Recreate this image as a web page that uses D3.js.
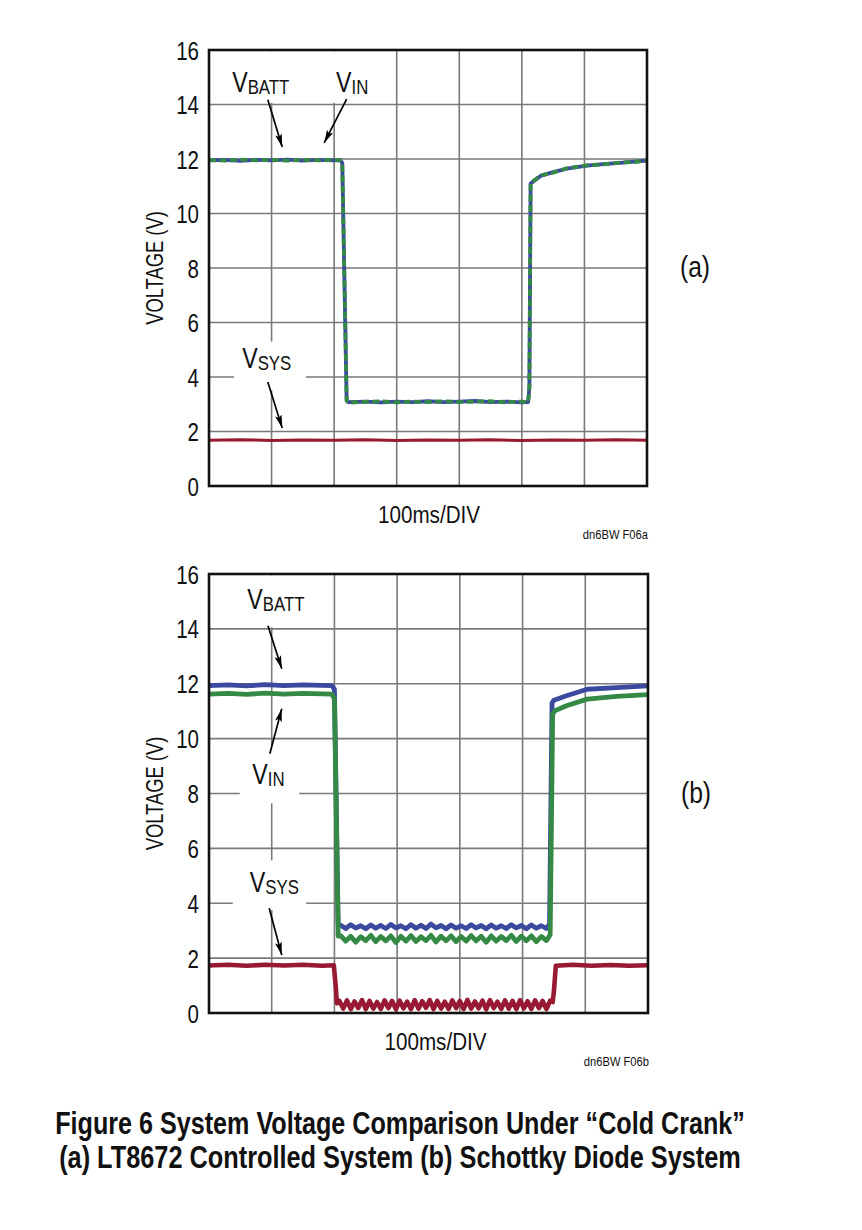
<!DOCTYPE html>
<html>
<head>
<meta charset="utf-8">
<script src="https://cdn.jsdelivr.net/npm/d3@7"></script>
<style>
body { margin: 0; background: #fff; }
svg text { font-family: "Liberation Sans", Arial, sans-serif; fill: #111; }
</style>
</head>
<body>
<svg id="fig" width="862" height="1230"></svg>
<script>
// time in divisions (100ms/DIV), voltage in V
var xTicks = [1, 2, 3, 4, 5, 6];
var yTicks = [0, 2, 4, 6, 8, 10, 12, 14, 16];

// panel (a): LT8672 controlled
var battA = [[0,11.95],[0.25,11.97],[0.5,11.93],[0.75,11.97],[1,11.95],[1.25,11.98],[1.5,11.94],[1.75,11.97],[2,11.95],[2.1,11.96],[2.13,11.85],
  [2.2,3.15],[2.23,3.08],[2.5,3.1],[2.75,3.07],[3,3.1],[3.25,3.08],[3.5,3.11],[3.75,3.08],[4,3.1],[4.25,3.12],[4.5,3.08],[4.75,3.1],[5,3.07],[5.1,3.08],
  [5.12,3.6],[5.14,11.1],[5.3,11.38],[5.5,11.52],[5.72,11.65],[6.04,11.76],[6.3,11.81],[6.57,11.86],[6.8,11.9],[7,11.94]];
var vinA = [[0,11.96],[0.25,11.94],[0.5,11.98],[0.75,11.95],[1,11.97],[1.25,11.94],[1.5,11.97],[1.75,11.95],[2,11.97],[2.1,11.95],[2.13,11.84],
  [2.2,3.12],[2.23,3.06],[2.5,3.09],[2.75,3.11],[3,3.07],[3.25,3.1],[3.5,3.08],[3.75,3.11],[4,3.08],[4.25,3.1],[4.5,3.11],[4.75,3.07],[5,3.1],[5.1,3.07],
  [5.12,3.6],[5.14,11.12],[5.3,11.4],[5.5,11.5],[5.72,11.66],[6.04,11.77],[6.3,11.8],[6.57,11.87],[6.8,11.89],[7,11.95]];
var sysA = [[0,1.68],[0.5,1.7],[1,1.67],[1.5,1.69],[2,1.68],[2.5,1.7],[3,1.67],[3.5,1.69],[4,1.68],[4.5,1.7],[5,1.67],[5.5,1.69],[6,1.68],[6.5,1.7],[7,1.68]];

// panel (b): Schottky diode
var battB = [[0,11.93],[0.3,11.96],[0.6,11.92],[0.9,11.97],[1.2,11.93],[1.5,11.96],[1.8,11.94],[1.96,11.93],[2.0,11.8],[2.06,3.2],
  [2.10,3.20],[2.18,3.08],[2.26,3.22],[2.34,3.10],[2.42,3.18],[2.50,3.07],[2.58,3.21],[2.66,3.09],[2.74,3.19],[2.82,3.08],[2.90,3.23],[2.98,3.10],
  [3.06,3.18],[3.14,3.07],[3.22,3.22],[3.30,3.09],[3.38,3.20],[3.46,3.08],[3.54,3.24],[3.62,3.10],[3.70,3.19],[3.78,3.07],[3.86,3.21],[3.94,3.09],
  [4.02,3.18],[4.10,3.08],[4.18,3.22],[4.26,3.10],[4.34,3.19],[4.42,3.07],[4.50,3.21],[4.58,3.09],[4.66,3.18],[4.74,3.08],[4.82,3.22],[4.90,3.10],
  [4.98,3.19],[5.06,3.07],[5.14,3.21],[5.22,3.09],[5.30,3.18],[5.38,3.08],[5.43,3.25],
  [5.47,11.3],[5.5,11.4],[5.7,11.56],[6.03,11.8],[6.5,11.86],[7,11.92]];
var vinB = [[0,11.62],[0.3,11.65],[0.6,11.61],[0.9,11.66],[1.2,11.62],[1.5,11.65],[1.8,11.63],[1.96,11.62],[2.0,11.45],[2.06,2.8],
  [2.10,2.82],[2.18,2.62],[2.26,2.80],[2.34,2.58],[2.42,2.78],[2.50,2.64],[2.58,2.83],[2.66,2.60],[2.74,2.79],[2.82,2.63],[2.90,2.81],[2.98,2.57],
  [3.06,2.80],[3.14,2.62],[3.22,2.82],[3.30,2.61],[3.38,2.78],[3.46,2.64],[3.54,2.83],[3.62,2.59],[3.70,2.80],[3.78,2.63],[3.86,2.81],[3.94,2.60],
  [4.02,2.79],[4.10,2.62],[4.18,2.82],[4.26,2.63],[4.34,2.80],[4.42,2.58],[4.50,2.81],[4.58,2.62],[4.66,2.79],[4.74,2.64],[4.82,2.83],[4.90,2.61],
  [4.98,2.80],[5.06,2.63],[5.14,2.81],[5.22,2.60],[5.30,2.79],[5.38,2.64],[5.44,2.85],
  [5.48,10.9],[5.52,11.02],[5.7,11.2],[6.03,11.44],[6.5,11.54],[7,11.6]];
var sysB = [[0,1.73],[0.3,1.76],[0.6,1.72],[0.9,1.76],[1.2,1.73],[1.5,1.76],[1.8,1.72],[1.99,1.74],[2.02,1.0],[2.04,0.35],
  [2.08,0.44],[2.14,0.16],[2.20,0.46],[2.26,0.14],[2.32,0.42],[2.38,0.18],[2.44,0.47],[2.50,0.14],[2.56,0.44],[2.62,0.16],[2.68,0.40],[2.74,0.15],
  [2.80,0.46],[2.86,0.18],[2.92,0.44],[2.98,0.13],[3.04,0.45],[3.10,0.17],[3.16,0.41],[3.22,0.14],[3.28,0.47],[3.34,0.16],[3.40,0.43],[3.46,0.19],
  [3.52,0.47],[3.58,0.14],[3.64,0.44],[3.70,0.16],[3.76,0.41],[3.82,0.15],[3.88,0.46],[3.94,0.18],[4.00,0.44],[4.06,0.14],[4.12,0.48],[4.18,0.16],
  [4.24,0.42],[4.30,0.17],[4.36,0.45],[4.42,0.13],[4.48,0.47],[4.54,0.18],[4.60,0.41],[4.66,0.15],[4.72,0.46],[4.78,0.16],[4.84,0.44],[4.90,0.14],
  [4.96,0.47],[5.02,0.17],[5.08,0.43],[5.14,0.15],[5.20,0.46],[5.26,0.18],[5.32,0.44],[5.38,0.14],[5.44,0.45],
  [5.48,0.4],[5.5,0.8],[5.53,1.72],[5.8,1.76],[6.1,1.72],[6.4,1.75],[6.7,1.72],[7,1.74]];

// annotations in data units: label anchor [t, v], arrow [t0, v0, t1, v1], white boxes [t0, t1, v0, v1]
var labelsA = [{main: "V", sub: "BATT", at: [0.37, 14.46]}, {main: "V", sub: "IN", at: [2.03, 14.46]}, {main: "V", sub: "SYS", at: [0.53, 4.33]}];
var arrowsA = [[0.94, 14.17, 1.17, 12.44], [2.2, 14.2, 1.84, 12.59], [0.94, 3.82, 1.17, 2.13]];
var boxesA = [[0.3, 2.75, 14.06, 15.95], [0.4, 1.55, 3.5, 5.3]];

var labelsB = [{main: "V", sub: "BATT", at: [0.61, 14.73]}, {main: "V", sub: "IN", at: [0.69, 8.36]}, {main: "V", sub: "SYS", at: [0.65, 4.4]}];
var arrowsB = [[0.94, 14.11, 1.16, 12.55], [0.97, 9.45, 1.16, 11.09], [0.96, 3.82, 1.16, 2.11]];
var boxesB = [[0.3, 1.61, 14.06, 15.95], [0.49, 1.44, 7.64, 9.75], [0.38, 1.55, 3.75, 5.56]];

var caption = ["Figure 6 System Voltage Comparison Under \u201cCold Crank\u201d",
               "(a) LT8672 Controlled System (b) Schottky Diode System"];
var captionWidth = [690, 682];

var blue = "#3b4a9e", green = "#348a45", red = "#981a32";
var squeeze = 0.82;   // stand-in for the condensed face of the original

var svg = d3.select("#fig");

svg.append("defs").append("marker")
    .attr("id", "head")
    .attr("viewBox", "0 0 13 8")
    .attr("refX", 13).attr("refY", 4)
    .attr("markerWidth", 13).attr("markerHeight", 8)
    .attr("markerUnits", "userSpaceOnUse")
    .attr("orient", "auto")
    .append("path").attr("d", "M0,0.6 L13,4 L0,7.4 L2.5,4 Z").attr("fill", "#000");

function narrowText(parent, x, y, size, anchor, k) {
    return parent.append("text")
        .attr("transform", "translate(" + x + "," + y + ") scale(" + (k || squeeze) + ",1)")
        .attr("font-size", size)
        .attr("text-anchor", anchor || "start");
}

function panel(cfg) {
    var w = cfg.right - cfg.left;
    var h = cfg.bottom - cfg.top;
    var g = svg.append("g").attr("transform", "translate(" + cfg.left + "," + cfg.top + ")");

    var x = d3.scaleLinear().domain([0, 7]).range([0, w]);
    var y = d3.scaleLinear().domain([0, 16]).range([h, 0]);

    // grid
    g.selectAll(".vg").data(xTicks).enter().append("line")
        .attr("x1", x).attr("x2", x).attr("y1", 0).attr("y2", h)
        .attr("stroke", "#7a7a7a").attr("stroke-width", 1.6);
    g.selectAll(".hg").data(yTicks.slice(1, -1)).enter().append("line")
        .attr("x1", 0).attr("x2", w).attr("y1", y).attr("y2", y)
        .attr("stroke", "#7a7a7a").attr("stroke-width", 1.6);

    // white label backgrounds over the grid
    g.selectAll(".box").data(cfg.boxes).enter().append("rect")
        .attr("x", function(d) { return x(d[0]); })
        .attr("width", function(d) { return x(d[1]) - x(d[0]); })
        .attr("y", function(d) { return y(d[3]); })
        .attr("height", function(d) { return y(d[2]) - y(d[3]); })
        .attr("fill", "#fff");

    var line = d3.line().x(function(d) { return x(d[0]); }).y(function(d) { return y(d[1]); });

    cfg.series.forEach(function(s) {
        g.append("path").datum(s.data)
            .attr("d", line)
            .attr("fill", "none")
            .attr("stroke", s.color)
            .attr("stroke-width", s.width)
            .attr("stroke-linejoin", "round")
            .attr("stroke-dasharray", s.dash || null);
    });

    // frame
    g.append("rect").attr("width", w).attr("height", h)
        .attr("fill", "none").attr("stroke", "#111").attr("stroke-width", 2.6);

    var yAxis = d3.axisLeft(y).tickValues(yTicks).tickSize(0).tickPadding(0);
    var ax = g.append("g").call(yAxis);
    ax.select(".domain").remove();
    ax.selectAll("text")
        .attr("x", null).attr("dy", "0.36em")
        .attr("font-size", 25)
        .attr("fill", "#111")
        .style("font-family", "Liberation Sans, Arial, sans-serif")
        .attr("transform", "translate(-10,0) scale(" + squeeze + ",1)");

    narrowText(g, -46, h / 2, 23, "middle", 0.8)
        .attr("transform", "translate(-46," + (h / 2) + ") rotate(-90) scale(0.8,1)")
        .text("VOLTAGE (V)");

    narrowText(g, w / 2 + cfg.divShift, h + 37, 24, "middle", 0.86).text("100ms/DIV");
    narrowText(g, w + 1, h + 53, 13, "end", 0.86).text(cfg.code);
    narrowText(g, w + 48, h / 2 + 9, 29, "middle", 0.85).text(cfg.tag);

    cfg.labels.forEach(function(l) {
        var t = narrowText(g, x(l.at[0]), y(l.at[1]), 29, "start", 0.8);
        t.append("tspan").text(l.main);
        t.append("tspan").attr("font-size", 21).attr("dy", 2).text(l.sub);
    });

    g.selectAll(".arrow").data(cfg.arrows).enter().append("line")
        .attr("x1", function(d) { return x(d[0]); })
        .attr("y1", function(d) { return y(d[1]); })
        .attr("x2", function(d) { return x(d[2]); })
        .attr("y2", function(d) { return y(d[3]); })
        .attr("stroke", "#000").attr("stroke-width", 1.7)
        .attr("marker-end", "url(#head)");
}

panel({
    left: 209, right: 647, top: 50, bottom: 486,
    series: [
        {data: battA, color: blue, width: 3.8},
        {data: vinA, color: green, width: 3.8, dash: "7,3.5"},
        {data: sysA, color: red, width: 3}
    ],
    labels: labelsA, arrows: arrowsA, boxes: boxesA,
    tag: "(a)", code: "dn6BW F06a", divShift: 1
});

panel({
    left: 209, right: 648, top: 574, bottom: 1013,
    series: [
        {data: battB, color: blue, width: 4.8},
        {data: vinB, color: green, width: 4.8},
        {data: sysB, color: red, width: 4.6}
    ],
    labels: labelsB, arrows: arrowsB, boxes: boxesB,
    tag: "(b)", code: "dn6BW F06b", divShift: 7
});

// caption: squeeze each line to the width it has in the original
caption.forEach(function(c, i) {
    var t = svg.append("text")
        .attr("text-anchor", "middle")
        .attr("font-size", 32)
        .attr("font-weight", "bold")
        .text(c);
    var k = captionWidth[i] / t.node().getComputedTextLength();
    t.attr("transform", "translate(400," + (1134 + i * 34) + ") scale(" + k + ",1)");
});
</script>
</body>
</html>
